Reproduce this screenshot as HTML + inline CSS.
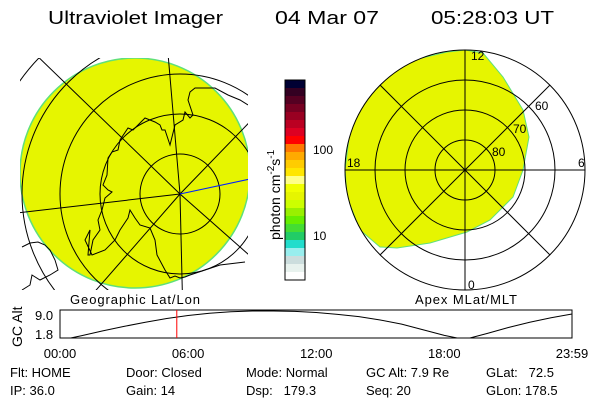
<!DOCTYPE html>
<html><head><meta charset="utf-8"><style>
body{margin:0;background:#fff}
svg{display:block;font-family:"Liberation Sans",sans-serif}
</style></head><body>
<svg id="c" width="600" height="400" viewBox="0 0 600 400" xmlns="http://www.w3.org/2000/svg">
<defs>
<clipPath id="gclip"><rect x="20" y="58" width="228" height="232"/></clipPath>
<clipPath id="pclip"><circle cx="465" cy="170" r="120"/></clipPath>
</defs>
<g font-size="18" fill="#000">
<text x="48" y="24" textLength="175" lengthAdjust="spacingAndGlyphs">Ultraviolet Imager</text>
<text x="275" y="24" textLength="104" lengthAdjust="spacingAndGlyphs">04 Mar 07</text>
<text x="431" y="24" textLength="123" lengthAdjust="spacingAndGlyphs">05:28:03 UT</text>
</g>

<g clip-path="url(#gclip)">
<circle cx="135" cy="173" r="115" fill="#e6f500" stroke="#5fe07a" stroke-width="1.5"/>
<g fill="none" stroke="#000" stroke-width="1">
<circle cx="180" cy="194" r="40"/><circle cx="180" cy="194" r="80"/><circle cx="180" cy="194" r="120"/><circle cx="180" cy="194" r="158"/><circle cx="180" cy="194" r="196"/>
<line x1="180" y1="194" x2="166" y2="30"/><line x1="180" y1="194" x2="183" y2="320"/>
<line x1="180" y1="194" x2="0" y2="215"/><line x1="180" y1="194" x2="0" y2="20"/>
<line x1="180" y1="194" x2="300" y2="70"/><line x1="180" y1="194" x2="70" y2="320"/>
<line x1="180" y1="194" x2="300" y2="300"/>
</g>
<line x1="180" y1="194" x2="250" y2="179" stroke="#0020ff" stroke-width="1"/>
<polyline fill="none" stroke="#000" stroke-width="1" points="248,105 240,100 228,95 215,88 205,88 195,88 190,92 188,100 193,115 190,118 185,112 183,120 175,125 170,145 165,130 162,130 160,125 155,122 150,120 145,118 138,125 133,130 128,128 120,140 118,150 112,152 108,158 107,175 103,185 108,190 112,192 105,198 102,210 98,220 100,230 93,240 90,255 88,255 90,230 85,240 92,255 105,250 115,240 120,230 128,218 130,210 135,218 140,225 150,228 155,240 157,255 165,270 170,278 175,276 180,278 185,277 190,275 205,270 220,265 245,262"/>
<polyline fill="none" stroke="#000" stroke-width="1" points="22,247 30,243 38,242 45,245 50,250 55,260 58,270 50,275 40,280 32,275 30,285 22,290"/>
</g>
<text x="70" y="304" font-size="13" textLength="130">Geographic Lat/Lon</text>

<g id="cbar"></g>
<rect x="285" y="80" width="20" height="200" fill="none" stroke="#000"/>
<text x="313" y="154" font-size="12">100</text>
<text x="313" y="240" font-size="12">10</text>
<text transform="translate(280,240) rotate(-90)" font-size="14">photon cm<tspan dy="-6" font-size="10">-2</tspan><tspan dy="6">s</tspan><tspan dy="-6" font-size="10">-1</tspan></text>

<g>
<polygon clip-path="url(#pclip)" fill="#e6f500" stroke="#5fe07a" stroke-width="1" points="483,53 503,77 523,110 529,137 523,170 513,197 490,220 467,232 430,243 397,248 380,247 360,230 347,197 345,170 350,130 363,100 383,77 413,60 447,52 465,50"/>
<g fill="none" stroke="#000" stroke-width="1">
<circle cx="465" cy="170" r="30"/><circle cx="465" cy="170" r="60"/><circle cx="465" cy="170" r="90"/><circle cx="465" cy="170" r="120"/>
<line x1="345" y1="170" x2="585" y2="170"/><line x1="465" y1="50" x2="465" y2="290"/>
<line x1="380" y1="85" x2="550" y2="255"/><line x1="550" y1="85" x2="380" y2="255"/>
</g>
<g font-size="12" fill="#000">
<text x="471" y="60">12</text>
<text x="347" y="167">18</text>
<text x="578" y="167">6</text>
<text x="468" y="289">0</text>
<text x="535" y="110">60</text>
<text x="513" y="133">70</text>
<text x="492" y="156">80</text>
</g>
</g>
<text x="415" y="304" font-size="13" textLength="102">Apex MLat/MLT</text>

<g id="alt">
<rect x="60" y="310" width="512" height="28" fill="none" stroke="#000"/>
<text transform="translate(22,347) rotate(-90)" font-size="14">GC Alt</text>
<text x="35" y="320" font-size="13">9.0</text>
<text x="35" y="339" font-size="13">1.8</text>
</g>

<g font-size="13" fill="#000">
<text x="10" y="377">Flt: HOME</text><text x="10" y="395">IP: 36.0</text>
<text x="126" y="377">Door: Closed</text><text x="126" y="395">Gain: 14</text>
<text x="246" y="377">Mode: Normal</text><text x="246" y="395">Dsp:&#160;&#160; 179.3</text>
<text x="366" y="377">GC Alt: 7.9 Re</text><text x="366" y="395">Seq: 20</text>
<text x="486" y="377">GLat:&#160;&#160; 72.5</text><text x="486" y="395">GLon: 178.5</text>
</g>
</svg>
<script>
const cbarColors=["#000033","#330022","#550022","#770022","#990022","#bb0022","#dd0022","#ff0000","#ff7700","#ffaa00","#ffcc00","#ffe600","#ffff88","#f0ff00","#e6f500","#ccff00","#99f000","#66ee00","#44dd33","#22cc66","#22ddcc","#99eeee","#ccdddd","#e8f2ee","#ffffff"];
const hours=[0.5,1,2,3,4,5,6,7,8,9,10,11,12,13,14,15,16,17,18,18.6,19.2,20,21,22,23,23.98];
const alts=[1.8,2.4,3.7,4.9,6.0,7.0,7.8,8.4,8.8,9.0,9.0,8.9,8.6,8.1,7.5,6.6,5.5,4.0,2.5,1.8,1.8,3.0,4.6,6.0,7.2,8.2];
const tickLabels=["00:00","06:00","12:00","18:00","23:59"];
const tickHours=[0,6,12,18,23.98];
const curHour=5.47;
const NS="http://www.w3.org/2000/svg";
const cb=document.getElementById('cbar');
const bh=200/cbarColors.length;
cbarColors.forEach((c,i)=>{const r=document.createElementNS(NS,'rect');
r.setAttribute('x',285);r.setAttribute('y',80+i*bh);r.setAttribute('width',20);r.setAttribute('height',bh+0.5);r.setAttribute('fill',c);


cb.appendChild(r);});
const xs=h=>60+h/23.98*512, ys=v=>338-(v-1.8)/(9.0-1.8)*27;
const g=document.getElementById('alt');
const pl=document.createElementNS(NS,'polyline');
pl.setAttribute('points',hours.map((h,i)=>xs(h)+','+ys(alts[i])).join(' '));
pl.setAttribute('fill','none');pl.setAttribute('stroke','#000');


g.appendChild(pl);
const rl=document.createElementNS(NS,'line');
rl.setAttribute('x1',xs(curHour));rl.setAttribute('x2',xs(curHour));rl.setAttribute('y1',310);rl.setAttribute('y2',338);rl.setAttribute('stroke','#ff0000');


g.appendChild(rl);
tickLabels.forEach((t,i)=>{const tx=document.createElementNS(NS,'text');
tx.setAttribute('x',xs(tickHours[i]));tx.setAttribute('y',358);tx.setAttribute('font-size',13);tx.setAttribute('text-anchor','middle');tx.textContent=t;


g.appendChild(tx);});
</script>
</body></html>
